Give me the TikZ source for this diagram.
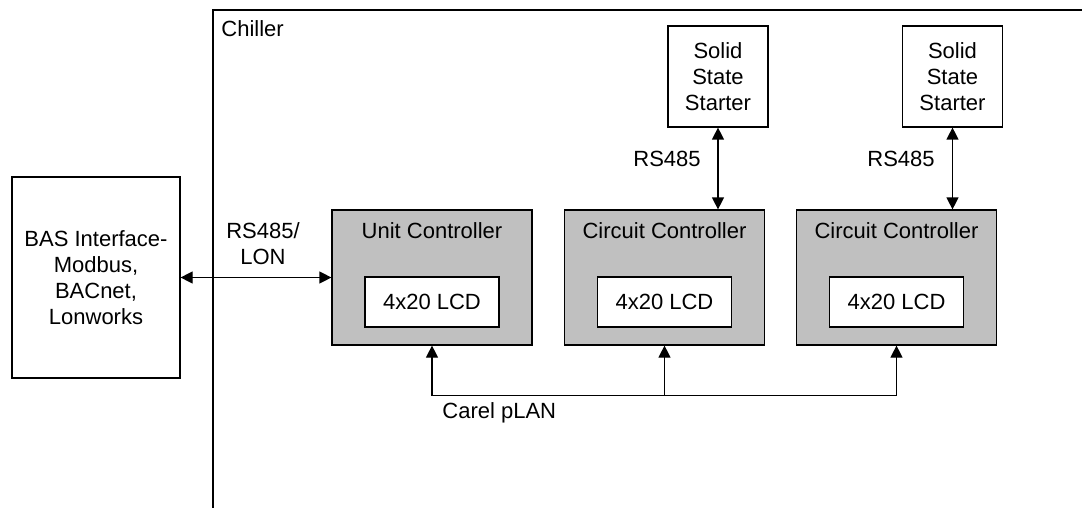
\documentclass[tikz,border=0pt]{standalone}
\usepackage{fontspec}
\setmainfont{Liberation Sans}
\usetikzlibrary{arrows.meta, positioning}
\definecolor{ctrlgray}{RGB}{192,192,192}
\tikzset{%
   % plain framed box, text set in lines
   box/.style={
      draw,
      line width=0.6pt,
      align=center,
      inner sep=0pt
   },
   ctrl/.style={
      box,
      fill=ctrlgray,
      minimum width=100pt,
      minimum height=67.5pt
   },
   lcd/.style={
      box,
      fill=white,
      minimum width=67pt,
      minimum height=25pt
   },
   starter/.style={
      box,
      minimum width=50pt,
      minimum height=50.5pt
   },
   title/.style={inner sep=0pt},
   wire/.style={line width=0.6pt},
   link/.style={
      wire,
      {Triangle[length=6pt,width=6pt]}-{Triangle[length=6pt,width=6pt]}
   },
   uplink/.style={
      wire,
      -{Triangle[length=6pt,width=6pt]}
   },
}

\begin{document}
\begin{tikzpicture}[x=0.5pt, y=-0.5pt, font=\fontsize{11}{13}\selectfont]
\useasboundingbox (0,0) rectangle (1082,508);
% chiller frame, open to the right and below
\draw[wire] (213,508) -- (213,10) -- (1082,10);
\node[title, anchor=base west] (chiller) at (221,37) {Chiller};

\node[box, minimum width=84pt, minimum height=100.5pt] (bas) at (96,277.5)
   {BAS Interface-\\Modbus,\\BACnet,\\Lonworks};

% controllers
\node[ctrl] (uc) at (432,277.5) {};
\node[ctrl] (cc1) at (664.5,277.5) {};
\node[ctrl] (cc2) at (896.5,277.5) {};
\node[title, below=6.5pt of uc.north] (uct) {Unit Controller};
\node[title, below=6.5pt of cc1.north] (cc1t) {Circuit Controller};
\node[title, below=6.5pt of cc2.north] (cc2t) {Circuit Controller};
\node[lcd] (lcd0) at (432,302) {4x20 LCD};
\node[lcd] (lcd1) at (664.5,302) {4x20 LCD};
\node[lcd] (lcd2) at (896.5,302) {4x20 LCD};

% starters
\node[starter] (ss1) at (718,76.5) {Solid\\State\\Starter};
\node[starter] (ss2) at (952.5,76.5) {Solid\\State\\Starter};
\draw[link] (ss1) -- (ss1 |- cc1.north);
\draw[link] (ss2) -- (ss2 |- cc2.north);
\node (rs1) at (667,159) {RS485};
\node (rs2) at (901,159) {RS485};

% BAS link
\draw[link] (bas) -- (uc);
\node[align=center] (rsl) at (263,244) {RS485/\\LON};

% pLAN bus
\coordinate[below=25pt of uc.south] (b0);
\coordinate (b1) at (b0 -| cc1.south);
\coordinate (b2) at (b0 -| cc2.south);
\draw[wire] (b0) -- (b2);
\draw[uplink] (b0) -- (uc.south);
\draw[uplink] (b1) -- (cc1.south);
\draw[uplink] (b2) -- (cc2.south);
\node[title, below right=3.5pt and 5pt of b0] (plan) {Carel pLAN};
\end{tikzpicture}
\end{document}
